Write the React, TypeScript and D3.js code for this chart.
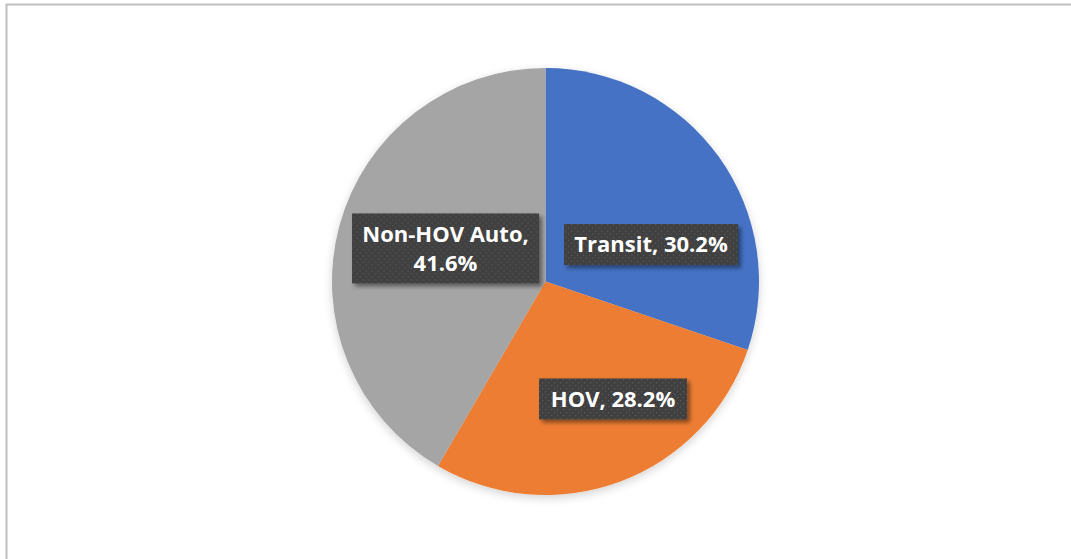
import React from "react";
import * as d3 from "d3";

const categories = ["Transit", "HOV", "Non-HOV Auto"];
const shares = [30.2, 28.2, 41.6];
const colors = ["#4472C4", "#ED7D31", "#A5A5A5"];
// label layout: polar placement (deg clockwise from top, distance px) and line breaks
const labelAngle = [70.7, 150.1, 288.3];
const labelDist = [111.8, 135.5, 105.3];
const labelLines = [["Transit, 30.2%"], ["HOV, 28.2%"], ["Non-HOV Auto,", "41.6%"]];
const labelBoxW = [174, 148, 187];

const W = 1071;
const H = 559;
const cx = 545.5;
const cy = 281.5;
const R = 213.5;

export default function App() {
  const pie = d3
    .pie<number>()
    .sort(null)
    .value((d) => d)
    .startAngle(0)
    .endAngle(2 * Math.PI);
  const arcs = pie(shares);
  const arc = d3.arc<d3.PieArcDatum<number>>().innerRadius(0).outerRadius(R);
  const lineH = 29;
  const fontSize = 22;

  return (
    <svg
      width={W}
      height={H}
      style={{ position: "fixed", left: 0, top: 0, background: "#fff" }}
      xmlns="http://www.w3.org/2000/svg"
    >
      <defs>
        <pattern id="dots" width="6" height="6" patternUnits="userSpaceOnUse">
          <rect width="6" height="6" fill="#404040" />
          <rect x="1" y="1" width="1.2" height="1.2" fill="#5c5c5c" />
          <rect x="4" y="4" width="1.2" height="1.2" fill="#5c5c5c" />
        </pattern>
        <filter id="pieShadow" x="-20%" y="-20%" width="140%" height="140%">
          <feGaussianBlur in="SourceAlpha" stdDeviation="5" />
          <feOffset dx="0" dy="3" result="b" />
          <feComponentTransfer>
            <feFuncA type="linear" slope="0.18" />
          </feComponentTransfer>
          <feMerge>
            <feMergeNode />
            <feMergeNode in="SourceGraphic" />
          </feMerge>
        </filter>
        <filter id="boxShadow" x="-20%" y="-30%" width="140%" height="160%">
          <feGaussianBlur in="SourceAlpha" stdDeviation="2" />
          <feOffset dx="3" dy="3" />
          <feComponentTransfer>
            <feFuncA type="linear" slope="0.45" />
          </feComponentTransfer>
          <feMerge>
            <feMergeNode />
            <feMergeNode in="SourceGraphic" />
          </feMerge>
        </filter>
      </defs>
      <rect x={6.5} y={4.5} width={W + 20} height={H + 20} fill="#fff" stroke="#BFBFBF" strokeWidth={2} />
      <g transform={`translate(${cx},${cy})`} filter="url(#pieShadow)">
        {arcs.map((a, i) => (
          <path key={categories[i]} d={arc(a) || ""} fill={colors[i]} />
        ))}
      </g>
      <g transform={`translate(${cx},${cy})`}>
        {arcs.map((a, i) => {
          const ang = (labelAngle[i] * Math.PI) / 180;
          const lx = Math.sin(ang) * labelDist[i];
          const ly = -Math.cos(ang) * labelDist[i];
          const lines = labelLines[i];
          const bw = labelBoxW[i];
          const bh = lines.length * lineH + 12;
          return (
            <g key={categories[i]} transform={`translate(${lx},${ly})`}>
              <rect
                x={-bw / 2}
                y={-bh / 2}
                width={bw}
                height={bh}
                fill="url(#dots)"
                filter="url(#boxShadow)"
              />
              {lines.map((t, j) => (
                <text
                  key={j}
                  x={0}
                  y={-((lines.length - 1) * lineH) / 2 + j * lineH}
                  dy="0.36em"
                  textAnchor="middle"
                  fill="#fff"
                  fontFamily="'Open Sans', sans-serif"
                  fontWeight={700}
                  fontSize={fontSize}
                >
                  {t}
                </text>
              ))}
            </g>
          );
        })}
      </g>
    </svg>
  );
}
